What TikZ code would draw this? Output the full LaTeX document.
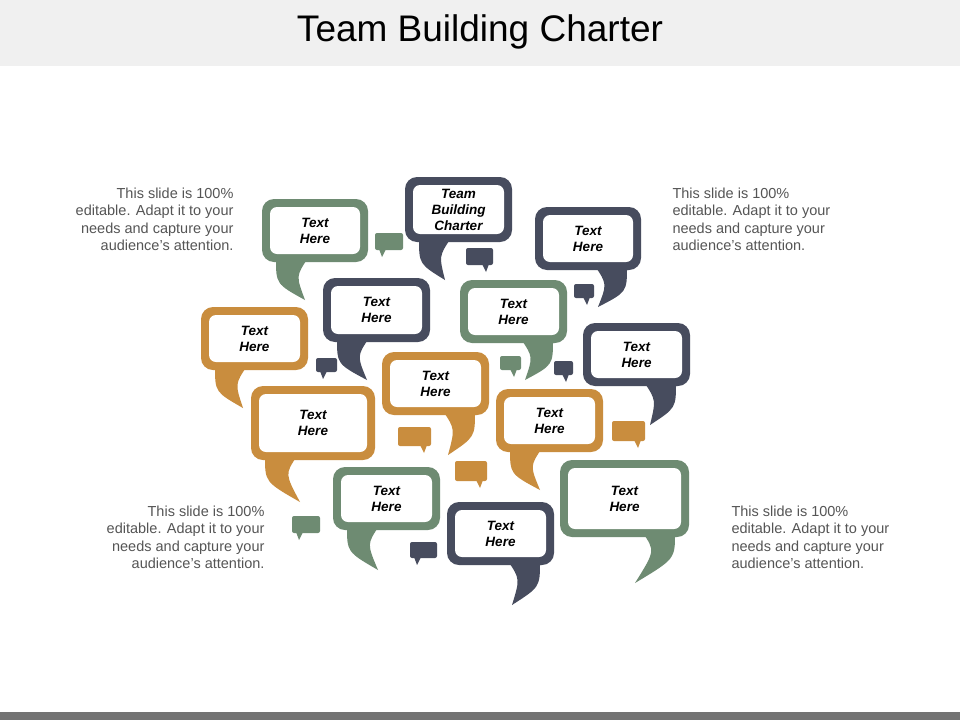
\documentclass[tikz,border=0pt]{standalone}
\usepackage{fontspec}
\setmainfont{Liberation Sans}
\definecolor{cg}{HTML}{6E8B72}
\definecolor{cd}{HTML}{474C5E}
\definecolor{co}{HTML}{C98D3E}
\definecolor{tx}{HTML}{555555}
\newcommand\bubL[9]{%
 \fill[#5,rounded corners=12pt] (#1,#2) rectangle (#3,#4);
 \fill[#5] ({#1+14},{#4-4}) .. controls ({#1+14},{#4+22}) .. (#6,#7) .. controls ({#1+34},{#4+14}) .. ({#1+46},{#4-4}) -- cycle;
 \fill[white,rounded corners=7pt] ({#1+8},{#2+8}) rectangle ({#3-8},{#4-8});
 \node[btxt] (#8) at ({(#1+#3)/2},{(#2+#4)/2}) {#9};}
\newcommand\bubR[9]{%
 \fill[#5,rounded corners=12pt] (#1,#2) rectangle (#3,#4);
 \fill[#5] ({#3-14},{#4-4}) .. controls ({#3-14},{#4+22}) .. (#6,#7) .. controls ({#3-34},{#4+14}) .. ({#3-46},{#4-4}) -- cycle;
 \fill[white,rounded corners=7pt] ({#1+8},{#2+8}) rectangle ({#3-8},{#4-8});
 \node[btxt] (#8) at ({(#1+#3)/2},{(#2+#4)/2}) {#9};}
\newcommand\sbL[5]{%
 \fill[#5,rounded corners=2pt] (#1,#2) rectangle (#3,#4);
 \fill[#5] ({#1+4},{#4-1}) -- ({#1+7},{#4+7}) -- ({#1+11},{#4-1}) -- cycle;}
\newcommand\sbR[5]{%
 \fill[#5,rounded corners=2pt] (#1,#2) rectangle (#3,#4);
 \fill[#5] ({#3-4},{#4-1}) -- ({#3-7},{#4+7}) -- ({#3-11},{#4-1}) -- cycle;}
\tikzset{btxt/.style={font=\fontsize{13.5}{16}\selectfont\bfseries\itshape,align=center,text=black},
 side/.style={font=\fontsize{14.5}{17.5}\selectfont,text=tx,anchor=north}}
\begin{document}
\begin{tikzpicture}[x=1pt,y=-1pt]
\useasboundingbox (0,0) rectangle (960,720);
\fill[white] (0,0) rectangle (960,720);
\fill[black!6] (0,0) rectangle (960,66);
\node[font=\fontsize{37}{42}\selectfont,text=black] (title) at (480,32) {Team Building Charter};
\fill[black!55] (0,712) rectangle (960,720);
\node[side,align=right,anchor=north east] (t1) at (237,184) {This slide is 100\%\\editable. Adapt it to your\\needs and capture your\\audience's attention.};
\node[side,align=left,anchor=north west] (t2) at (669,184) {This slide is 100\%\\editable. Adapt it to your\\needs and capture your\\audience's attention.};
\node[side,align=right,anchor=north east] (t3) at (268,502) {This slide is 100\%\\editable. Adapt it to your\\needs and capture your\\audience's attention.};
\node[side,align=left,anchor=north west] (t4) at (728,502) {This slide is 100\%\\editable. Adapt it to your\\needs and capture your\\audience's attention.};
% small bubbles
\sbL{375}{233}{403}{250}{cg}
\sbR{466}{248}{493}{265}{cd}
\sbR{574}{284}{594}{298}{cd}
\sbL{316}{358}{337}{372}{cd}
\sbR{500}{356}{521}{370}{cg}
\sbR{554}{361}{573}{375}{cd}
\sbR{398}{427}{431}{446}{co}
\sbR{455}{461}{487}{481}{co}
\sbR{612}{421}{645}{441}{co}
\sbL{292}{516}{320}{533}{cg}
\sbL{410}{542}{437}{558}{cd}
% bubbles
\bubL{262}{199}{368}{262}{cg}{305}{300}{b1}{Text\\Here}
\bubL{405}{177}{512}{242}{cd}{445}{280}{b2}{Team\\Building\\Charter}
\bubR{535}{207}{641}{270}{cd}{598}{307}{b3}{Text\\Here}
\bubL{323}{278}{430}{342}{cd}{367}{380}{b4}{Text\\Here}
\bubR{460}{280}{567}{343}{cg}{525}{380}{b5}{Text\\Here}
\bubL{201}{307}{308}{370}{co}{243}{408}{b6}{Text\\Here}
\bubR{583}{323}{690}{386}{cd}{650}{425}{b7}{Text\\Here}
\bubR{382}{352}{489}{415}{co}{448}{455}{b8}{Text\\Here}
\bubL{251}{386}{375}{460}{co}{300}{502}{b9}{Text\\Here}
\bubL{496}{389}{603}{452}{co}{540}{490}{b10}{Text\\Here}
\bubR{560}{460}{689}{537}{cg}{635}{583}{b11}{Text\\Here}
\bubL{333}{467}{440}{530}{cg}{378}{570}{b12}{Text\\Here}
\bubR{447}{502}{554}{565}{cd}{512}{605}{b13}{Text\\Here}
\end{tikzpicture}
\end{document}
